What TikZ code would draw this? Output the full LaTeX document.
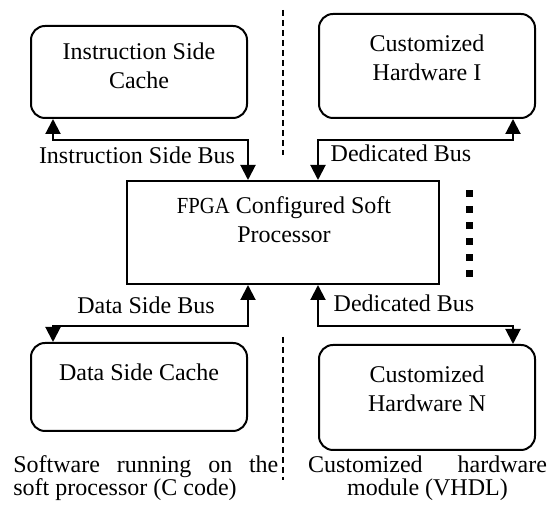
\documentclass[tikz,border=0pt]{standalone}
\usepackage{fontspec}
\setmainfont{Liberation Serif}
\usepackage{tikz}
\usetikzlibrary{positioning,arrows.meta}

\tikzset{
    block/.style={draw, line width=1pt, minimum width=108pt, inner sep=0pt},
    cache/.style={block, rounded corners=7pt},
    boxtext/.style={align=center, font=\fontsize{12}{14.5}\selectfont, inner sep=0pt},
    buslabel/.style={font=\fontsize{12}{14.5}\selectfont, inner sep=0pt},
    note/.style={font=\fontsize{12}{11.5}\selectfont, inner sep=0pt},
    bus/.style={line width=1pt, {Triangle[length=7.5pt,width=7.5pt]}-{Triangle[length=7.5pt,width=7.5pt]}},
    divider/.style={line width=0.75pt, dash pattern=on 3pt off 2pt},
}

\begin{document}
\begin{tikzpicture}[x=0.5pt, y=-0.5pt]
    \useasboundingbox (0,0) rectangle (553,506);

    % Caches, processor and hardware modules
    \node[cache, minimum height=46pt] (icache) at (139,72) {};
    \node[cache, minimum height=52pt] (hwone) at (427,66) {};
    \node[block, minimum width=156pt, minimum height=51.5pt] (fpga) at (283,232.5) {};
    \node[cache, minimum height=44pt] (dcache) at (139,387) {};
    \node[cache, minimum height=52.5pt] (hwn) at (427,397.5) {};

    \node[boxtext] (icachetxt) at (139,66) {Instruction Side\\Cache};
    \node[boxtext] (hwonetxt) at (427,57.5) {Customized\\Hardware I};
    \node[boxtext] (fpgatxt) at (284,220) {{\fontsize{11.5}{14}\selectfont\scalebox{0.9}[1]{FPGA}} Configured Soft\\Processor};
    \node[boxtext] (dcachetxt) at (139,372) {Data Side Cache};
    \node[boxtext] (hwntxt) at (427,389) {Customized\\Hardware N};

    % Buses
    \draw[bus] ([xshift=11.5pt]icache.south west) -- ++(0,21) -| (icache.south east |- fpga.north);
    \draw[bus] ([xshift=-11.5pt]hwone.south east) -- ++(0,21) -| (hwone.south west |- fpga.north);
    \draw[bus] ([xshift=11.5pt]dcache.north west) -- ++(0,-16) -| (dcache.north east |- fpga.south);
    \draw[bus] ([xshift=-11.5pt]hwn.north east) -- ++(0,-18) -| (hwn.north west |- fpga.south);

    \node[buslabel] (isbus) at (137,155) {Instruction Side Bus};
    \node[buslabel] (dbustop) at (401,153) {Dedicated Bus};
    \node[buslabel] (dsbus) at (146,305) {Data Side Bus};
    \node[buslabel] (dbusbot) at (404,303) {Dedicated Bus};

    % Software / hardware split
    \draw[divider] (283,10) -- (283,155);
    \draw[divider] (283,337) -- (283,480);

    \node[note, align=left, anchor=west] (swnote) at (13,478) {\makebox[132.5pt][s]{Software running on the}\\soft processor (C code)};
    \node[note, align=center] (hwnote) at (427.5,478) {\makebox[119.5pt][s]{Customized hardware}\\module (VHDL)};

    % More hardware modules
    \foreach \y in {194,210,...,274}
        \fill (469,\y) ++(-3.5,-3.5) rectangle ++(7,7);
\end{tikzpicture}
\end{document}
